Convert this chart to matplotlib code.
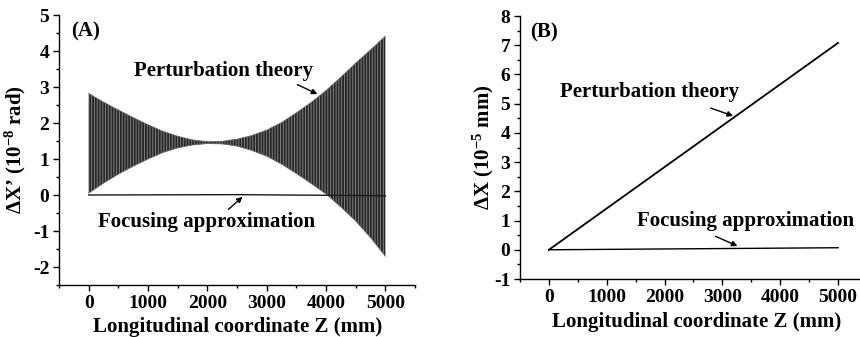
import matplotlib
matplotlib.use("Agg")
import matplotlib.pyplot as plt

plt.rcParams['font.family'] = ['Liberation Serif', 'DejaVu Serif']
plt.rcParams['font.weight'] = 'bold'
plt.rcParams['mathtext.fontset'] = 'custom'
plt.rcParams['mathtext.rm'] = 'Liberation Serif:bold'
plt.rcParams['mathtext.bf'] = 'Liberation Serif:bold'
plt.rcParams['mathtext.default'] = 'bf'
plt.rcParams['hatch.linewidth'] = 1.3
plt.rcParams['axes.unicode_minus'] = False

# ---- Panel A data: envelope of the oscillating perturbation-theory result ----
z_env = [0, 250, 500, 750, 1000, 1250, 1500, 1750, 2000, 2250, 2500, 2750,
         3000, 3250, 3500, 3750, 4000, 4250, 4500, 4750, 5000]
upper_env = [2.82, 2.58, 2.36, 2.15, 1.95, 1.77, 1.63, 1.53, 1.48, 1.49, 1.55, 1.65,
             1.80, 2.01, 2.28, 2.57, 2.90, 3.27, 3.66, 4.03, 4.41]
lower_env = [0.05, 0.33, 0.58, 0.80, 1.00, 1.18, 1.31, 1.39, 1.43, 1.42, 1.36, 1.24,
             1.08, 0.86, 0.60, 0.32, 0.03, -0.33, -0.72, -1.18, -1.70]
z_focus_a = [0, 2500, 5000]
y_focus_a = [0.0, 0.01, -0.02]

# ---- Panel B data ----
z_b = [0, 5000]
y_pert_b = [0.0, 7.08]
y_focus_b = [0.0, 0.07]

xticks = [0, 1000, 2000, 3000, 4000, 5000]

fig = plt.figure(figsize=(8.6, 3.37), dpi=100)
axA = fig.add_axes([59/860, 1-285/337, 356/860, 270/337])
axB = fig.add_axes([520/860, 1-279/337, 347/860, 263/337])

TXT = 15
for ax in (axA, axB):
    ax.spines['top'].set_visible(False)
    ax.spines['right'].set_visible(False)
    ax.spines['left'].set_linewidth(1.0)
    ax.spines['bottom'].set_linewidth(1.0)
    ax.tick_params(which='major', direction='out', length=4, width=1, labelsize=14, pad=3)
    ax.tick_params(which='minor', direction='out', length=2.5, width=1)
    ax.set_xticks(xticks)
    ax.set_xticklabels([str(t) for t in xticks])
    ax.set_xticks([t + 500 for t in [-1000] + xticks], minor=True)
    ax.set_xlim(-500, 5500)

# Panel A
axA.fill_between(z_env, lower_env, upper_env, facecolor='0.5', edgecolor='0.15',
                 hatch='||||||', linewidth=0)
axA.plot(z_env, upper_env, color='0.4', lw=0.6)
axA.plot(z_env, lower_env, color='0.4', lw=0.6)
axA.plot(z_focus_a, y_focus_a, color='0.1', lw=1.0)
axA.set_ylim(-2.5, 5.0)
axA.set_yticks([-2, -1, 0, 1, 2, 3, 4, 5])
axA.set_yticks([-2.5, -1.5, -0.5, 0.5, 1.5, 2.5, 3.5, 4.5], minor=True)
axA.set_ylabel("ΔX’ (10$^{-8}$ rad)", fontsize=TXT, fontweight='bold')
axA.yaxis.set_label_coords(-0.088, 0.5)
axA.set_xlabel("Longitudinal coordinate Z (mm)", fontsize=TXT, fontweight='bold')
axA.xaxis.set_label_coords(0.503, -0.119)
axA.text(-288, 4.55, "(A)", fontsize=TXT, fontweight='bold', ha='left', va='center')
axA.text(763, 3.44, "Perturbation theory", fontsize=TXT, fontweight='bold', ha='left', va='center')
axA.annotate('', xy=(3898, 2.77), xytext=(3475, 3.10),
             arrowprops=dict(arrowstyle='-|>', color='k', lw=1, mutation_scale=8))
axA.text(153, -0.75, "Focusing approximation", fontsize=TXT, fontweight='bold', ha='left', va='center')
axA.annotate('', xy=(2627, 0.0), xytext=(2322, -0.45),
             arrowprops=dict(arrowstyle='-|>', color='k', lw=1, mutation_scale=8))

# Panel B
axB.plot(z_b, y_pert_b, color='k', lw=1.3)
axB.plot(z_b, y_focus_b, color='k', lw=1.0)
axB.set_ylim(-1, 8)
axB.set_yticks(list(range(-1, 9)))
axB.set_yticks([v + 0.5 for v in range(-1, 8)], minor=True)
axB.set_ylabel("ΔX (10$^{-5}$ mm)", fontsize=TXT, fontweight='bold')
axB.yaxis.set_label_coords(-0.068, 0.5)
axB.set_xlabel("Longitudinal coordinate Z (mm)", fontsize=TXT, fontweight='bold')
axB.xaxis.set_label_coords(0.51, -0.125)
axB.text(-329, 7.42, "(B)", fontsize=TXT, fontweight='bold', ha='left', va='center')
axB.text(190, 5.4, "Perturbation theory", fontsize=TXT, fontweight='bold', ha='left', va='center')
axB.annotate('', xy=(3230, 4.55), xytext=(2751, 4.88),
             arrowprops=dict(arrowstyle='-|>', color='k', lw=1, mutation_scale=8))
axB.text(1522, 0.98, "Focusing approximation", fontsize=TXT, fontweight='bold', ha='left', va='center')
axB.annotate('', xy=(3304, 0.09), xytext=(2837, 0.50),
             arrowprops=dict(arrowstyle='-|>', color='k', lw=1, mutation_scale=8))

for ax in (axA, axB):
    for lbl in ax.get_xticklabels() + ax.get_yticklabels():
        lbl.set_fontweight('bold')

fig.savefig("out.png", dpi=100)
